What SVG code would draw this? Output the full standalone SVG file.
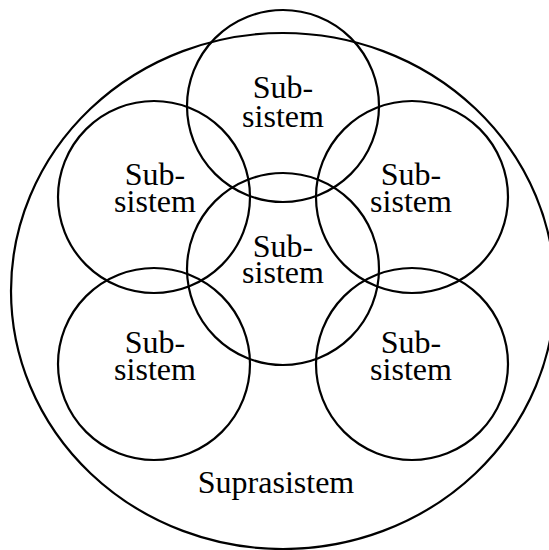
<svg xmlns="http://www.w3.org/2000/svg" width="549" height="550" viewBox="0 0 549 550">
<style>
.c{fill:none;stroke:#000;stroke-width:2.2}
.t{font-family:"Liberation Serif","Times New Roman",serif;font-size:32px;fill:#000;text-anchor:middle}
</style>
<rect width="549" height="550" fill="#fff"/>
<g id="suprasistem">
<ellipse class="c" cx="283" cy="291" rx="272" ry="258"/>
<text class="t" x="276" y="493">Suprasistem</text>
</g>
<g id="sub-top">
<circle class="c" cx="283" cy="106" r="96"/>
<text class="t" x="283" y="98">Sub-</text>
<text class="t" x="283" y="127">sistem</text>
</g>
<g id="sub-upper-left">
<circle class="c" cx="154" cy="197" r="96"/>
<text class="t" x="155" y="185">Sub-</text>
<text class="t" x="155" y="212">sistem</text>
</g>
<g id="sub-upper-right">
<circle class="c" cx="412" cy="197" r="96"/>
<text class="t" x="411" y="185">Sub-</text>
<text class="t" x="411" y="212">sistem</text>
</g>
<g id="sub-center">
<circle class="c" cx="283" cy="269" r="96"/>
<text class="t" x="283" y="257">Sub-</text>
<text class="t" x="283" y="283">sistem</text>
</g>
<g id="sub-lower-left">
<circle class="c" cx="154" cy="364" r="96"/>
<text class="t" x="155" y="353">Sub-</text>
<text class="t" x="155" y="380">sistem</text>
</g>
<g id="sub-lower-right">
<circle class="c" cx="412" cy="364" r="96"/>
<text class="t" x="411" y="353">Sub-</text>
<text class="t" x="411" y="380">sistem</text>
</g>
<g id="connectors"/>
</svg>
